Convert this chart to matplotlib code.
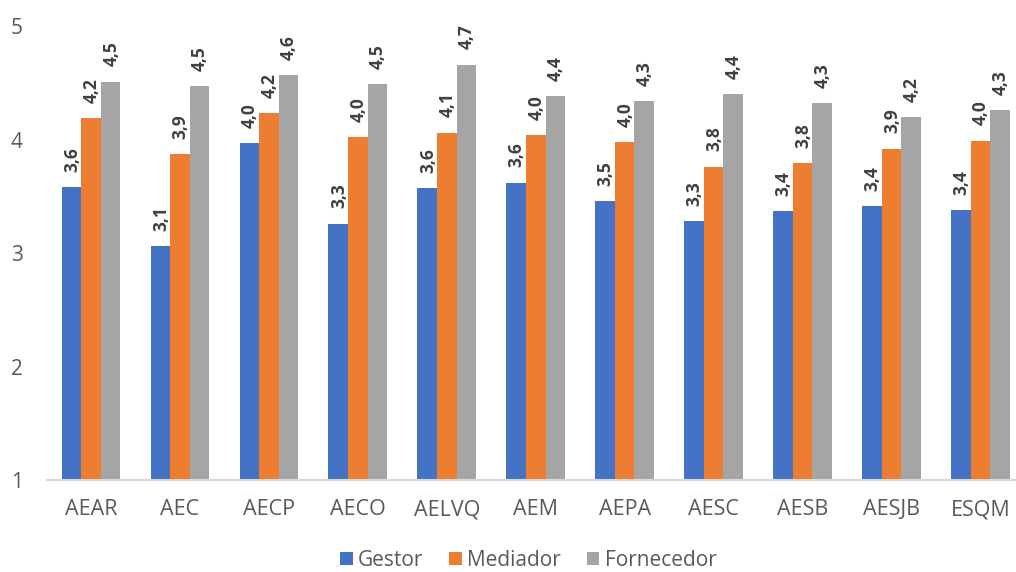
import matplotlib
matplotlib.use("Agg")
import matplotlib.pyplot as plt
import numpy as np

categories = ["AEAR", "AEC", "AECP", "AECO", "AELVQ", "AEM",
              "AEPA", "AESC", "AESB", "AESJB", "ESQM"]
series_names = ["Gestor", "Mediador", "Fornecedor"]
gestor = [3.58, 3.06, 3.97, 3.26, 3.57, 3.62, 3.46, 3.28, 3.37, 3.41, 3.38]
mediador = [4.19, 3.87, 4.23, 4.02, 4.06, 4.04, 3.98, 3.76, 3.79, 3.92, 3.99]
fornecedor = [4.51, 4.47, 4.57, 4.49, 4.66, 4.38, 4.34, 4.40, 4.32, 4.20, 4.26]
y_ticks = [1, 2, 3, 4, 5]

colors = ["#4472C4", "#ED7D31", "#A5A5A5"]
text_gray = "#595959"
label_gray = "#404040"

plt.rcParams["font.family"] = ["Open Sans", "DejaVu Sans"]

fig = plt.figure(figsize=(10.16, 5.72), dpi=100)
ax = fig.add_axes([0.0458, 0.1608, 0.963, 0.7937])

x = np.arange(len(categories))
width = 0.22
for i, (name, vals) in enumerate(zip(series_names, [gestor, mediador, fornecedor])):
    pos = x + (i - 1) * width
    bars = ax.bar(pos, vals, width=width, bottom=0, color=colors[i], label=name,
                  zorder=2)
    for b, v in zip(bars, vals):
        ax.annotate(f"{v:.1f}".replace(".", ","),
                    xy=(b.get_x() + b.get_width() / 2, v),
                    xytext=(0.5, 11), textcoords="offset points",
                    rotation=90, ha="center", va="bottom",
                    fontsize=12.5, fontweight="bold", color=label_gray)

ax.set_xlim(-0.5, len(categories) - 0.5)
ax.set_ylim(1, 5)
ax.set_yticks(y_ticks)
ax.set_xticks(x)
ax.set_xticklabels(categories)

for side in ["left", "right", "top"]:
    ax.spines[side].set_visible(False)
ax.spines["bottom"].set_color("#D9D9D9")
ax.spines["bottom"].set_linewidth(1.5)
ax.spines["bottom"].set_zorder(3)

ax.tick_params(axis="y", length=0, pad=17, labelsize=15, labelcolor=text_gray)
ax.tick_params(axis="x", length=0, pad=14, labelsize=15.5, labelcolor=text_gray)

fig.legend(loc="center", bbox_to_anchor=(0.52, 0.02), ncol=3,
           frameon=False, fontsize=15, labelcolor=text_gray,
           handlelength=0.6, handleheight=0.6, handletextpad=0.25,
           columnspacing=1.25, borderpad=0.1)

fig.savefig("out.png", dpi=100)
